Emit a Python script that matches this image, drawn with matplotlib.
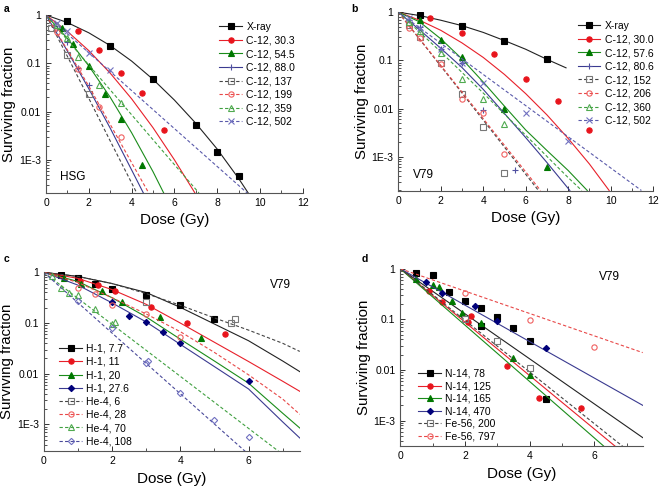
import matplotlib
matplotlib.use('Agg')
import matplotlib.pyplot as plt
from matplotlib.ticker import MultipleLocator, LogLocator, NullFormatter

plt.rcParams['font.family'] = ['Liberation Sans', 'DejaVu Sans']

# ---------------- panel a : HSG, X-ray and C-12 ----------------
a_labels = ['X-ray', 'C-12, 30.3', 'C-12, 54.5', 'C-12, 88.0',
            'C-12, 137', 'C-12, 199', 'C-12, 359', 'C-12, 502']
a_dose = [[1, 3, 5, 7, 8, 9],
          [1.5, 2.5, 3.5, 4.5, 5.5],
          [0.75, 1.25, 2, 2.75, 3.5, 4.5],
          [0.5, 1, 1.5, 2],
          [0.25, 1, 2],
          [0.5, 1.5, 2.5, 3.5],
          [0.5, 1, 1.5, 2.5, 3.5],
          [0.5, 1, 2, 3]]
a_surv = [[0.74, 0.232, 0.048, 0.0053, 0.0015, 4.8e-4],
          [0.47, 0.19, 0.063, 0.024, 0.0043],
          [0.53, 0.25, 0.088, 0.023, 0.007, 8.1e-4],
          [0.55, 0.28, 0.08, 0.035],
          [0.55, 0.15, 0.023],
          [0.45, 0.075, 0.0125, 0.003],
          [0.62, 0.33, 0.138, 0.036, 0.015],
          [0.68, 0.47, 0.166, 0.072]]
a_fit_dose = [[0, 1, 2, 3, 4, 5, 6, 7, 8, 9, 9.45],
              [0, 1, 2, 3, 4, 5, 6, 6.96],
              [0, 1, 2, 3, 4, 5, 5.5],
              [0, 1, 2, 3, 4, 4.55],
              [0, 1, 2, 3, 4, 4.24],
              [0, 1, 2, 3, 4, 4.8],
              [0, 2, 4, 6, 7.15],
              [0, 3, 6, 9.4]]
a_fit_surv = [[1, 0.70, 0.43, 0.234, 0.112, 0.047, 0.0175, 0.0058, 0.0017, 4.2e-4, 2.1e-4],
              [1, 0.46, 0.184, 0.063, 0.0186, 0.0047, 0.00102, 2.1e-4],
              [1, 0.33, 0.089, 0.02, 0.0037, 5.8e-4, 2.1e-4],
              [1, 0.18, 0.030, 0.0046, 6.3e-4, 2.1e-4],
              [1, 0.14, 0.019, 0.0025, 3.4e-4, 2.1e-4],
              [1, 0.19, 0.034, 0.0055, 8.9e-4, 2.1e-4],
              [1, 0.093, 0.0087, 8.1e-4, 2.1e-4],
              [1, 0.068, 0.0045, 2.1e-4]]

# ---------------- panel b : V79, X-ray and C-12 ----------------
b_labels = ['X-ray', 'C-12, 30.0', 'C-12, 57.6', 'C-12, 80.6',
            'C-12, 152', 'C-12, 206', 'C-12, 360', 'C-12, 502']
b_dose = [[1, 3, 5, 7],
          [1.5, 3, 4.5, 6, 7.5, 9],
          [1, 2, 3, 5, 7],
          [0.5, 1, 2, 3, 4, 5.5],
          [0.5, 1, 2, 3, 4, 5],
          [0.5, 1, 2, 3, 4, 5],
          [0.5, 1, 2, 3, 4, 5],
          [0.5, 1, 2, 3, 4, 6, 8]]
b_surv = [[0.88, 0.52, 0.25, 0.105],
          [0.75, 0.37, 0.134, 0.042, 0.0143, 0.0036],
          [0.68, 0.27, 0.115, 0.01, 6.2e-4],
          [0.7, 0.5, 0.17, 0.09, 0.0095, 5.3e-4],
          [0.55, 0.3, 0.087, 0.02, 0.0042, 4.7e-4],
          [0.47, 0.29, 0.085, 0.016, 0.0082, 0.00115],
          [0.62, 0.4, 0.14, 0.042, 0.016, 0.0047],
          [0.75, 0.47, 0.17, 0.09, 0.034, 0.008, 0.0021]]
b_fit_dose = [[0, 1, 2, 3, 4, 5, 6, 7, 7.9],
              [0, 1, 2, 3, 4, 5, 6, 7, 8, 9, 9.93],
              [0, 1, 2, 3, 4, 5, 6, 7, 8, 8.9],
              [0, 1, 2, 3, 4, 5, 6, 7, 8.08],
              [0, 3, 6.6],
              [0, 3, 6.7],
              [0, 2, 4, 6, 8, 8.64],
              [0, 4, 8, 11.45]]
b_fit_surv = [[1, 0.85, 0.68, 0.525, 0.38, 0.257, 0.17, 0.105, 0.07],
              [1, 0.68, 0.42, 0.23, 0.115, 0.051, 0.0204, 0.0074, 0.0024, 7.1e-4, 2.0e-4],
              [1, 0.63, 0.28, 0.107, 0.0355, 0.0112, 0.0036, 0.00135, 5.2e-4, 2.0e-4],
              [1, 0.43, 0.178, 0.071, 0.025, 0.0079, 0.0025, 7.6e-4, 2.0e-4],
              [1, 0.021, 2.0e-4],
              [1, 0.022, 2.0e-4],
              [1, 0.15, 0.021, 0.0028, 3.7e-4, 2.0e-4],
              [1, 0.051, 0.0026, 2.0e-4]]

# ---------------- panel c : V79, H-1 and He-4 ----------------
c_labels = ['H-1, 7.7', 'H-1, 11', 'H-1, 20', 'H-1, 27.6',
            'He-4, 6', 'He-4, 28', 'He-4, 70', 'He-4, 108']
c_dose = [[0.5, 1, 1.5, 2, 3, 4, 5],
          [1.05, 1.6, 2.1, 3.15, 4.2, 5.3],
          [0.6, 1.1, 1.7, 2.3, 3.4, 4.6],
          [2, 2.5, 3, 3.5, 4, 6],
          [3, 5.5, 5.6],
          [1, 1.5, 2, 3, 4],
          [0.25, 0.5, 0.75, 1, 1.5, 2, 2.1],
          [1, 2, 3, 3.05, 4, 5, 6]]
c_surv = [[0.88, 0.78, 0.58, 0.47, 0.35, 0.23, 0.12],
          [0.68, 0.55, 0.43, 0.21, 0.098, 0.06],
          [0.78, 0.58, 0.42, 0.26, 0.13, 0.05],
          [0.26, 0.14, 0.105, 0.066, 0.04, 0.0072],
          [0.26, 0.10, 0.12],
          [0.48, 0.37, 0.23, 0.15, 0.053],
          [0.85, 0.49, 0.39, 0.35, 0.19, 0.095, 0.105],
          [0.27, 0.08, 0.016, 0.018, 0.0042, 0.00125, 5.6e-4]]
c_fit_dose = [[0, 1, 2, 3, 4, 5, 6, 7, 7.5]] * 6 + [[0, 3, 6.88], [0, 3, 5.9]]
c_fit_surv = [[1, 0.83, 0.60, 0.40, 0.204, 0.0955, 0.0447, 0.0178, 0.011],
              [1, 0.76, 0.457, 0.234, 0.1, 0.0417, 0.0174, 0.0071, 0.0045],
              [1, 0.66, 0.316, 0.132, 0.048, 0.0178, 0.0065, 0.00166, 8.5e-4],
              [1, 0.56, 0.25, 0.105, 0.038, 0.0138, 0.005, 0.00112, 5.4e-4],
              [1, 0.83, 0.60, 0.38, 0.224, 0.126, 0.0724, 0.0398, 0.0275],
              [1, 0.63, 0.316, 0.151, 0.0676, 0.0263, 0.0095, 0.00316, 0.00158],
              [1, 0.029, 2.95e-4],
              [1, 0.016, 2.95e-4]]

# ---------------- panel d : V79, N-14 and Fe-56 ----------------
d_labels = ['N-14, 78', 'N-14, 125', 'N-14, 165', 'N-14, 470',
            'Fe-56, 200', 'Fe-56, 797']
d_dose = [[0.5, 1, 1.5, 2, 2.5, 2.5, 3, 3.5, 4, 4.5],
          [0.9, 1.3, 2.1, 2.2, 3.3, 4.3, 5.6],
          [0.5, 1, 1.2, 1.6, 1.9, 2.5, 3.5, 4],
          [0.8, 1.3, 2.3, 3, 4.5],
          [2, 3, 4],
          [2, 4, 6]]
d_surv = [[0.82, 0.74, 0.35, 0.235, 0.165, 0.073, 0.11, 0.067, 0.037, 0.0027],
          [0.36, 0.22, 0.088, 0.115, 0.012, 0.0028, 0.0018],
          [0.63, 0.47, 0.44, 0.23, 0.135, 0.085, 0.017, 0.008],
          [0.55, 0.33, 0.18, 0.092, 0.027],
          [0.1, 0.037, 0.011],
          [0.33, 0.096, 0.028]]
d_fit_dose = [[0, 7.5], [0, 6.65], [0, 6.3], [0, 7.5], [0, 6.88], [0, 7.5]]
d_fit_surv = [[1, 4.6e-4], [1, 3.1e-4], [1, 3.1e-4], [1, 0.002], [1, 3.1e-4], [1, 0.022]]

# styles: (line colour, dashed?, marker, marker colour, filled)
styles_ab = [('#222222', False, 's', 'black', True),
             ('#e8202a', False, 'o', '#e8141c', True),
             ('#1a8c1a', False, '^', '#007800', True),
             ('#3a3a90', False, '+', '#5050a0', True),
             ('#444444', True, 's', '#777777', False),
             ('#e84848', True, 'o', '#f06060', False),
             ('#40a040', True, '^', '#50aa50', False),
             ('#5a5aaa', True, 'x', '#7070c0', True)]
styles_c = [('#222222', False, 's', 'black', True),
            ('#e8202a', False, 'o', '#e8141c', True),
            ('#1a8c1a', False, '^', '#007800', True),
            ('#3a3a90', False, 'D', '#00007a', True),
            ('#444444', True, 's', '#777777', False),
            ('#e84848', True, 'o', '#f06060', False),
            ('#40a040', True, '^', '#50aa50', False),
            ('#4a4a9a', True, 'D', '#7070c0', False)]
styles_d = styles_c[:6]


def draw(ax, dose, surv, fdose, fsurv, labels, styles, xmax, ymin):
    for i in range(len(labels)):
        lc, dashed, mk, mc, filled = styles[i]
        ms = 3.2 if mk == 'D' else 3.8
        if mk in ('+', 'x'):
            ms = 4.5
        ls = (0, (3, 2)) if dashed else '-'
        fc = mc if filled else 'none'
        ax.plot(fdose[i], fsurv[i], color=lc, ls=ls, lw=0.8)
        ax.plot(dose[i], surv[i], ls='none', marker=mk, ms=ms, mfc=fc, mec=mc, mew=0.8)
        # legend entry: line with marker
        ax.plot([], [], color=lc, ls=ls, lw=0.8, marker=mk, ms=ms,
                mfc=fc, mec=mc, mew=0.8, label=labels[i])
    ax.set_yscale('log')
    ax.set_xlim(0, xmax)
    ax.set_ylim(ymin, 1)
    ax.set_yticks([1e-3, 1e-2, 0.1, 1])
    ax.set_yticklabels(['1E-3', '0.01', '0.1', '1'])
    ax.yaxis.set_minor_locator(LogLocator(base=10, subs=range(2, 10)))
    ax.yaxis.set_minor_formatter(NullFormatter())
    ax.xaxis.set_major_locator(MultipleLocator(2))
    ax.xaxis.set_minor_locator(MultipleLocator(1))
    ax.spines['top'].set_visible(False)
    ax.spines['right'].set_visible(False)
    for s in ('left', 'bottom'):
        ax.spines[s].set_color('#555555')
        ax.spines[s].set_linewidth(0.8)
    ax.tick_params(which='both', direction='in', labelsize=7.5, colors='#333333',
                   labelcolor='black')
    ax.tick_params(which='major', length=3.5, width=0.7)
    ax.tick_params(which='minor', length=2, width=0.6)
    ax.set_xlabel('Dose (Gy)', fontsize=11, labelpad=4)
    ax.set_ylabel('Surviving fraction', fontsize=10.8, labelpad=2)


fig = plt.figure(figsize=(6.6, 4.86), dpi=100)

leg_kw = dict(loc='upper left', frameon=False, fontsize=7.5, handlelength=2.2,
              handletextpad=0.4, borderpad=0, numpoints=1)

axa = fig.add_axes([0.0697, 0.603, 0.389, 0.366])
draw(axa, a_dose, a_surv, a_fit_dose, a_fit_surv, a_labels, styles_ab, 12, 2.1e-4)
axa.legend(bbox_to_anchor=(0.655, 0.99), labelspacing=0.34, **leg_kw)
axa.text(0.65, 3.9e-4, 'HSG', fontsize=8.5)

axb = fig.add_axes([0.6035, 0.607, 0.386, 0.368])
draw(axb, b_dose, b_surv, b_fit_dose, b_fit_surv, b_labels, styles_ab, 12, 1.95e-4)
axb.legend(bbox_to_anchor=(0.683, 0.98), labelspacing=0.34, **leg_kw)
axb.text(0.7, 3.6e-4, 'V79', fontsize=8.5)

axc = fig.add_axes([0.0662, 0.0714, 0.388, 0.3683])
draw(axc, c_dose, c_surv, c_fit_dose, c_fit_surv, c_labels, styles_c, 7.5, 2.95e-4)
axc.legend(bbox_to_anchor=(0.04, 0.63), labelspacing=0.31, **leg_kw)
axc.text(6.62, 0.5, 'V79', fontsize=8.5)

axd = fig.add_axes([0.6065, 0.0817, 0.3673, 0.3654])
draw(axd, d_dose, d_surv, d_fit_dose, d_fit_surv, d_labels, styles_d, 7.5, 3.1e-4)
axd.legend(bbox_to_anchor=(0.052, 0.465), labelspacing=0.24, **leg_kw)
axd.text(6.15, 0.6, 'V79', fontsize=8.5)

fig.text(0.006, 0.982, 'a', fontsize=7.5, fontweight='bold', va='center')
fig.text(0.533, 0.982, 'b', fontsize=7.5, fontweight='bold', va='center')
fig.text(0.005, 0.468, 'c', fontsize=7.5, fontweight='bold', va='center')
fig.text(0.548, 0.468, 'd', fontsize=7.5, fontweight='bold', va='center')

fig.savefig('out.png', dpi=100)
